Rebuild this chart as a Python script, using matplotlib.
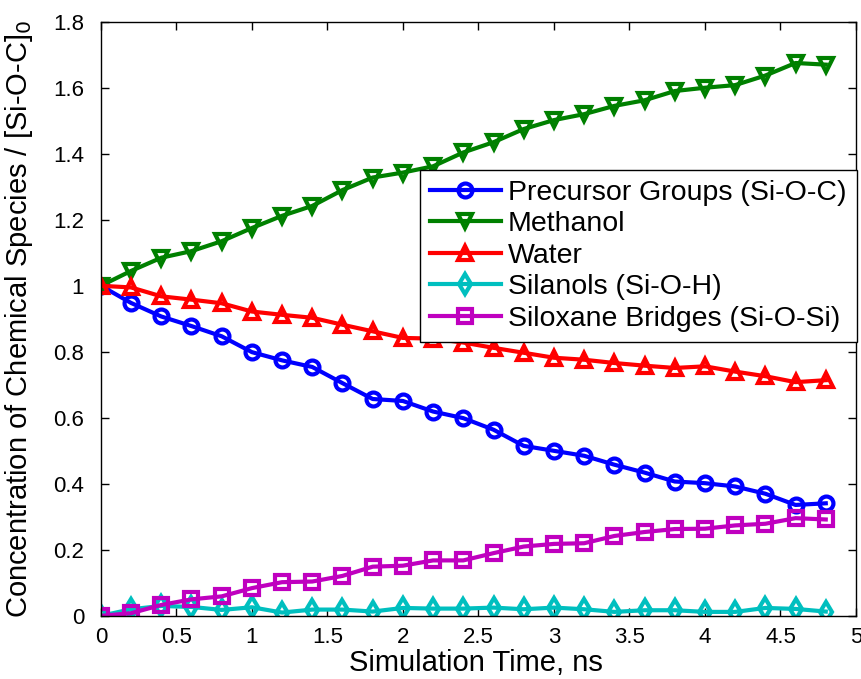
import numpy as np
import matplotlib
matplotlib.use('Agg')
import matplotlib.pyplot as plt
from matplotlib.ticker import FuncFormatter

plt.rcParams['font.family'] = ['Liberation Sans', 'DejaVu Sans']

# simulation time, ns
time_ns = [0.0, 0.2, 0.4, 0.6, 0.8, 1.0, 1.2, 1.4, 1.6, 1.8, 2.0, 2.2, 2.4,
           2.6, 2.8, 3.0, 3.2, 3.4, 3.6, 3.8, 4.0, 4.2, 4.4, 4.6, 4.8]

precursor = [1.0, 0.948, 0.907, 0.878, 0.847, 0.799, 0.774, 0.754, 0.705, 0.657,
             0.651, 0.619, 0.599, 0.564, 0.515, 0.500, 0.485, 0.458, 0.434, 0.407,
             0.402, 0.392, 0.370, 0.336, 0.341]
methanol = [1.0, 1.045, 1.085, 1.105, 1.135, 1.175, 1.212, 1.242, 1.290, 1.328,
            1.343, 1.362, 1.404, 1.435, 1.475, 1.502, 1.520, 1.545, 1.562, 1.590,
            1.600, 1.608, 1.637, 1.675, 1.670]
water = [1.0, 0.995, 0.968, 0.958, 0.947, 0.922, 0.912, 0.903, 0.882, 0.862,
         0.842, 0.840, 0.828, 0.812, 0.797, 0.782, 0.776, 0.766, 0.758, 0.751,
         0.756, 0.740, 0.726, 0.708, 0.714]
silanols = [0.0, 0.020, 0.030, 0.027, 0.018, 0.026, 0.010, 0.019, 0.019, 0.013,
            0.024, 0.022, 0.022, 0.025, 0.020, 0.025, 0.020, 0.012, 0.017, 0.017,
            0.012, 0.012, 0.024, 0.021, 0.013]
siloxane = [0.0, 0.008, 0.033, 0.050, 0.059, 0.084, 0.102, 0.104, 0.121, 0.149,
            0.152, 0.168, 0.168, 0.190, 0.210, 0.218, 0.220, 0.242, 0.254, 0.263,
            0.264, 0.274, 0.279, 0.296, 0.292]

series = [
    ('Precursor Groups (Si-O-C)', precursor, (0, 0, 1), 'o'),
    ('Methanol', methanol, (0, 0.5, 0), 'v'),
    ('Water', water, (1, 0, 0), '^'),
    ('Silanols (Si-O-H)', silanols, (0, 0.75, 0.75), 'd'),
    ('Siloxane Bridges (Si-O-Si)', siloxane, (0.75, 0, 0.75), 's'),
]

fig = plt.figure(figsize=(8.62, 6.79), dpi=100)
ax = fig.add_axes([0.117, 0.093, 0.876, 0.875])

for name, vals, col, mk in series:
    ax.plot(time_ns, vals, color=col, lw=3, marker=mk, ms=10, mew=3,
            mfc='none', mec=col, label=name)

ax.set_xlim(0, 5)
ax.set_ylim(0, 1.8)
ax.set_xticks(np.arange(0, 5.01, 0.5))
ax.set_yticks(np.arange(0, 1.81, 0.2))
fmt = FuncFormatter(lambda v, p: ('%.1f' % v).rstrip('0').rstrip('.'))
ax.xaxis.set_major_formatter(fmt)
ax.yaxis.set_major_formatter(fmt)
ax.tick_params(direction='in', top=True, right=True, length=6, width=1,
               labelsize=16, colors='black')
ax.tick_params(axis='x', pad=8)
ax.tick_params(axis='y', pad=12)
for s in ax.spines.values():
    s.set_linewidth(1)

ax.set_xlabel('Simulation Time, ns', fontsize=21)
ax.set_ylabel('Concentration of Chemical Species / [Si-O-C]$_0$', fontsize=21)
# label anchors: x label top edge, y label right edge
ax.xaxis.set_label_coords(0.497, -0.056)
ax.yaxis.set_label_coords(-0.087, 0.5)

leg = ax.legend(loc='upper right', bbox_to_anchor=(0.994, 0.75),
                bbox_transform=fig.transFigure, fontsize=20.5, frameon=True,
                fancybox=False, edgecolor='black', framealpha=1,
                handlelength=2.5, borderaxespad=0, labelspacing=0.19,
                borderpad=0.36, handletextpad=0.25)
leg.get_frame().set_linewidth(1)

fig.savefig('out.png', dpi=100)
